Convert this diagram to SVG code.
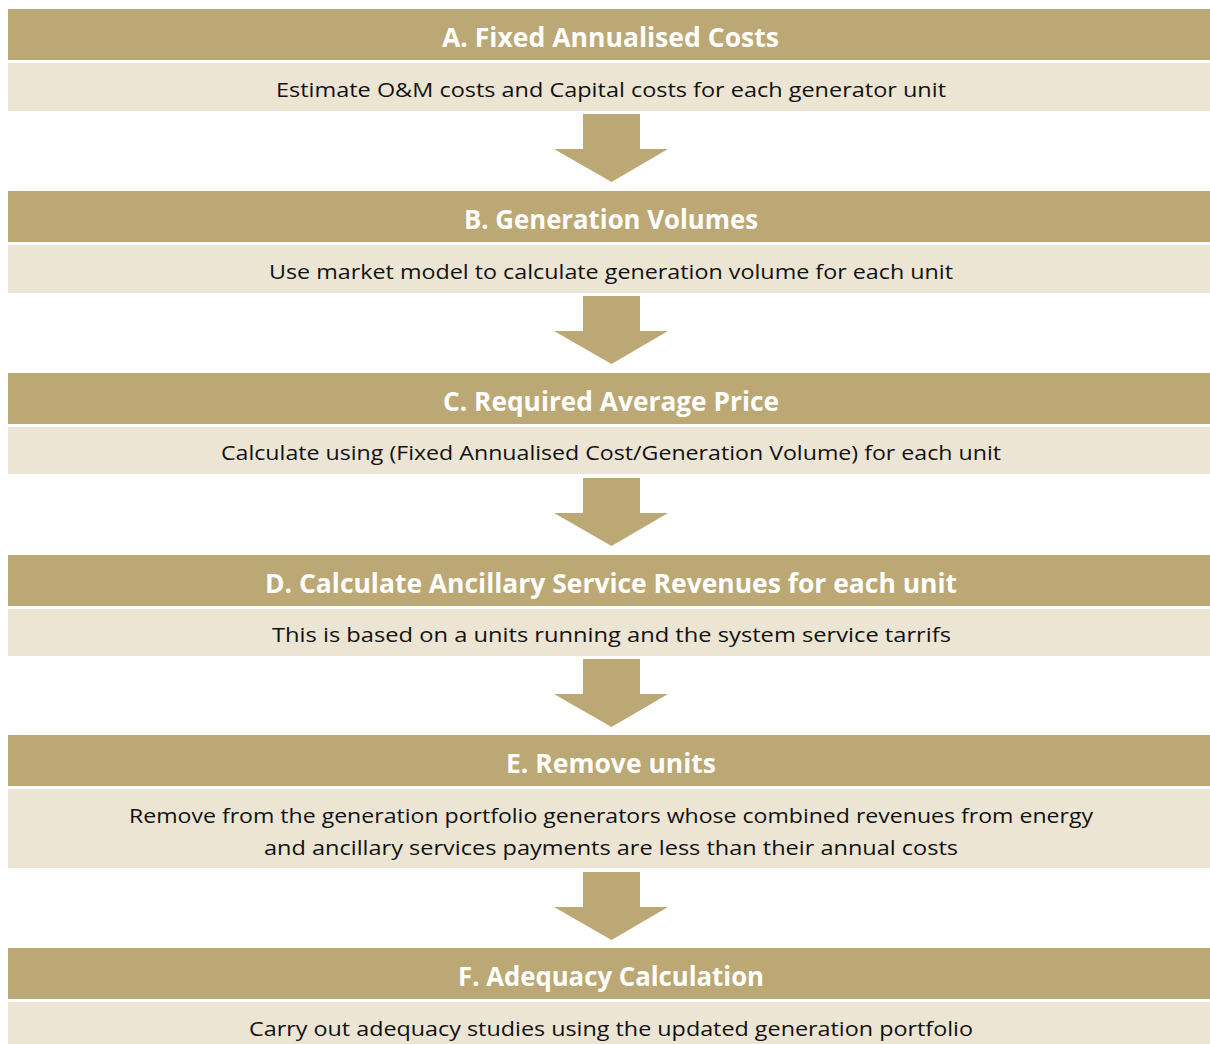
<svg xmlns="http://www.w3.org/2000/svg" width="1210" height="1044" viewBox="0 0 1210 1044">
<style>
.hd{fill:#BCA874}
.bd{fill:#ECE5D4}
.ar{fill:#BCA874}
.ht{font-family:"Open Sans","Liberation Sans",sans-serif;font-weight:bold;font-size:26px;fill:#fff;text-anchor:middle}
.bt{font-family:"Open Sans","Liberation Sans",sans-serif;font-size:20px;fill:#111;text-anchor:middle}
</style>
<defs>
<polygon id="arrow" points="583,0 640,0 640,35 668,35 611.5,68 554,35 583,35"/>
</defs>
<rect width="1210" height="1044" fill="#fff"/>
<g id="connectors">
<use href="#arrow" class="ar" y="114"/>
<use href="#arrow" class="ar" y="296"/>
<use href="#arrow" class="ar" y="478"/>
<use href="#arrow" class="ar" y="659"/>
<use href="#arrow" class="ar" y="872"/>
</g>
<g id="nodeA">
<rect class="hd" x="8" y="9" width="1202" height="51"/>
<rect class="bd" x="8" y="63" width="1202" height="48"/>
<text class="ht" x="610.5" y="47" textLength="337" lengthAdjust="spacingAndGlyphs">A. Fixed Annualised Costs</text>
<text class="bt" x="611" y="97" textLength="670" lengthAdjust="spacingAndGlyphs">Estimate O&amp;M costs and Capital costs for each generator unit</text>
</g>
<g id="nodeB">
<rect class="hd" x="8" y="191" width="1202" height="51"/>
<rect class="bd" x="8" y="245" width="1202" height="48"/>
<text class="ht" x="611" y="229" textLength="294" lengthAdjust="spacingAndGlyphs">B. Generation Volumes</text>
<text class="bt" x="611" y="279" textLength="684" lengthAdjust="spacingAndGlyphs">Use market model to calculate generation volume for each unit</text>
</g>
<g id="nodeC">
<rect class="hd" x="8" y="373" width="1202" height="51"/>
<rect class="bd" x="8" y="427" width="1202" height="47"/>
<text class="ht" x="611" y="411" textLength="336" lengthAdjust="spacingAndGlyphs">C. Required Average Price</text>
<text class="bt" x="611" y="460" textLength="780" lengthAdjust="spacingAndGlyphs">Calculate using (Fixed Annualised Cost/Generation Volume) for each unit</text>
</g>
<g id="nodeD">
<rect class="hd" x="8" y="555" width="1202" height="51"/>
<rect class="bd" x="8" y="609" width="1202" height="47"/>
<text class="ht" x="611" y="593" textLength="692" lengthAdjust="spacingAndGlyphs">D. Calculate Ancillary Service Revenues for each unit</text>
<text class="bt" x="611.5" y="642" textLength="679" lengthAdjust="spacingAndGlyphs">This is based on a units running and the system service tarrifs</text>
</g>
<g id="nodeE">
<rect class="hd" x="8" y="735" width="1202" height="51"/>
<rect class="bd" x="8" y="789" width="1202" height="79"/>
<text class="ht" x="611" y="773" textLength="210" lengthAdjust="spacingAndGlyphs">E. Remove units</text>
<text class="bt" x="611" y="823" textLength="964" lengthAdjust="spacingAndGlyphs">Remove from the generation portfolio generators whose combined revenues from energy</text>
<text class="bt" x="611" y="855" textLength="694" lengthAdjust="spacingAndGlyphs">and ancillary services payments are less than their annual costs</text>
</g>
<g id="nodeF">
<rect class="hd" x="8" y="948" width="1202" height="51"/>
<rect class="bd" x="8" y="1002" width="1202" height="42"/>
<text class="ht" x="611" y="986" textLength="306" lengthAdjust="spacingAndGlyphs">F. Adequacy Calculation</text>
<text class="bt" x="611" y="1036" textLength="724" lengthAdjust="spacingAndGlyphs">Carry out adequacy studies using the updated generation portfolio</text>
</g>
</svg>
